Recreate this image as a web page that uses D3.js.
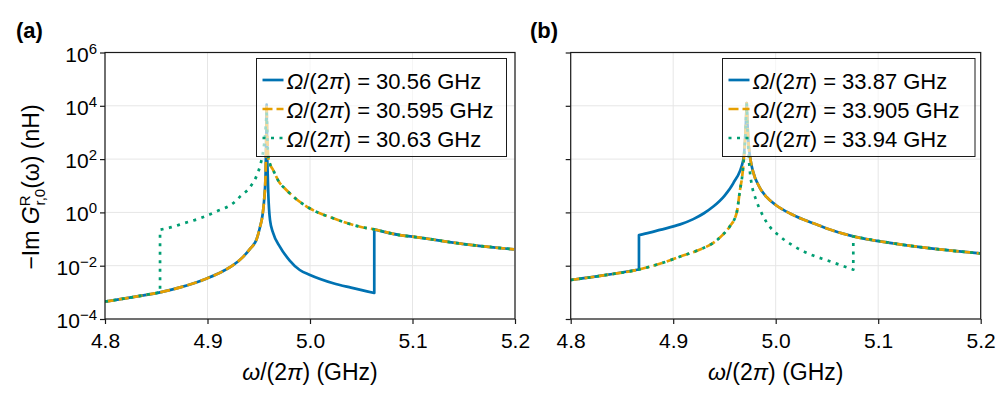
<!DOCTYPE html>
<html><head><meta charset="utf-8">
<script src="https://cdn.jsdelivr.net/npm/d3@7"></script>
<style>
body{margin:0;background:#fff}
svg{display:block}
text{font-family:"Liberation Sans",Arial,Helvetica,sans-serif;fill:#000}
</style>
</head><body>
<svg id="c" width="997" height="399"></svg>
<script>
// ---------- data (x in GHz, y = -Im G in nH) ----------
const xTicks = [4.8, 4.9, 5.0, 5.1, 5.2];
const yTickExps = [-4, -2, 0, 2, 4, 6];
const panelLabels = ["(a)", "(b)"];
const legendA = ["30.56", "30.595", "30.63"];
const legendB = ["33.87", "33.905", "33.94"];

// panel (a)
const aBaseLeft = [[4.800,4.5e-4],[4.830,6.9e-4],[4.8537,1.0e-3],[4.875,1.6e-3],[4.900,3.4e-3],[4.915,6.2e-3],[4.925,0.0105],[4.935,0.022],[4.9415,0.043],[4.948,0.1],[4.951,0.26],[4.9537,0.8],[4.9553,3.0],[4.9567,30],[4.9574,1000],[4.9577,1.1e4]];
const aBaseRight = [[4.9577,1.1e4],[4.9582,1000],[4.9588,250],[4.9593,120],[4.961,65],[4.964,39],[4.970,13.5],[4.975,8.2],[4.9805,5.1],[4.990,2.5],[5.000,1.4],[5.0227,0.6],[5.0488,0.29],[5.0627,0.23],[5.0878,0.14],[5.100,0.123],[5.150,0.065],[5.199,0.041]];
const aBlueRight = [[4.9577,1.1e4],[4.9583,100],[4.9593,5.1],[4.961,0.51],[4.964,0.17],[4.9707,0.051],[4.980,0.016],[4.990,6.9e-3],[5.000,4.5e-3],[5.0227,2.2e-3],[5.040,1.5e-3],[5.0627,9.5e-4]];
const aGreenLeft = [[4.8537,0.224],[4.865,0.28],[4.876,0.38],[4.8927,0.6],[4.909,1.1],[4.925,2.2],[4.9317,3.9],[4.9415,8.9],[4.948,24],[4.951,51],[4.9545,220],[4.956,650],[4.9577,5600]];
const aBlueJump = 5.0627, aGreenJump = 4.8537, aPeak = 4.9577;

// panel (b)
const bBaseLeft = [[4.800,2.9e-3],[4.835,4.5e-3],[4.8666,7.2e-3],[4.897,0.016],[4.9068,0.022],[4.925,0.039],[4.9391,0.072],[4.948,0.14],[4.955,0.29],[4.962,1.0],[4.965,6.3],[4.968,40],[4.9705,1000],[4.9717,1.26e4]];
const bBaseRight = [[4.9717,1.26e4],[4.9725,2000],[4.9735,400],[4.9755,91],[4.978,33],[4.984,9.1],[4.991,3.8],[5.000,1.9],[5.014,0.91],[5.027,0.54],[5.040,0.35],[5.0498,0.25],[5.0757,0.126],[5.1147,0.069],[5.160,0.041],[5.1993,0.029]];
const bBlueLeft = [[4.8666,0.141],[4.877,0.174],[4.887,0.22],[4.9068,0.355],[4.9196,0.56],[4.930,0.93],[4.9391,1.66],[4.950,4.2],[4.9587,12.6],[4.9683,91],[4.9705,1000],[4.9717,1.26e4]];
const bGreenRight = [[4.9717,1.0e4],[4.9728,500],[4.9749,32],[4.9815,2.5],[4.9847,1.26],[4.9912,0.42],[5.0042,0.126],[5.0172,0.056],[5.0367,0.024],[5.0498,0.016],[5.0757,7.1e-3]];
const bBlueJump = 4.8666, bGreenJump = 5.0757, bPeak = 4.9717;

const colors = ["#0072B2", "#E69F00", "#009E73"];
const dashes = [null, "10,4", "3,5.5"];

// ---------- build series ----------
const le = (a, v) => a.filter(d => d[0] <= v);
const gt = (a, v) => a.filter(d => d[0] > v);
const ge = (a, v) => a.filter(d => d[0] >= v);
const rng = (a, lo, hi) => a.filter(d => d[0] > lo && d[0] <= hi);

const seriesA = [
  [aBaseLeft, rng(aBlueRight, aPeak, aBlueJump), ge(aBaseRight, aBlueJump)],
  [aBaseLeft, gt(aBaseRight, aPeak)],
  [le(aBaseLeft, aGreenJump), aGreenLeft, gt(aBaseRight, aPeak)]
];
const seriesB = [
  [le(bBaseLeft, bBlueJump), bBlueLeft, gt(bBaseRight, bPeak)],
  [bBaseLeft, gt(bBaseRight, bPeak)],
  [bBaseLeft, rng(bGreenRight, bPeak, bGreenJump), ge(bBaseRight, bGreenJump)]
];

// ---------- drawing ----------
const svg = d3.select("#c");
const T = 52.5, B = 319, PW = 410;
const y = d3.scaleLog().domain([1e-4, 1e6]).range([B, T]);
const FONT_TICK = 21, FONT_LAB = 23, FONT_LEG = 22;

function drawPanel(idx, left, series, legendVals, legX, legW, showYLabels, labelX) {
  const x = d3.scaleLinear().domain([4.8, 5.2]).range([left, left + PW]);
  const g = svg.append("g");
  const clipId = "clip" + idx;
  svg.append("clipPath").attr("id", clipId).append("rect")
    .attr("x", left).attr("y", T).attr("width", PW).attr("height", B - T);

  // grid
  g.selectAll(".gx").data(xTicks).enter().append("line")
    .attr("x1", d => x(d)).attr("x2", d => x(d)).attr("y1", T).attr("y2", B)
    .attr("stroke", "#e6e6e6").attr("stroke-width", 1);
  g.selectAll(".gy").data(yTickExps).enter().append("line")
    .attr("x1", left).attr("x2", left + PW).attr("y1", d => y(Math.pow(10, d))).attr("y2", d => y(Math.pow(10, d)))
    .attr("stroke", "#e6e6e6").attr("stroke-width", 1);

  // lines
  const line = d3.line().x(d => x(d[0])).y(d => y(d[1])).curve(d3.curveMonotoneX);
  const lg = g.append("g").attr("clip-path", `url(#${clipId})`);
  series.forEach((segs, i) => {
    const dstr = segs.map((s, k) => { const p = line(s); return k ? p.replace(/^M/, "L") : p; }).join("");
    const p = lg.append("path").attr("d", dstr).attr("fill", "none")
      .attr("stroke", colors[i]).attr("stroke-width", 2.7).attr("stroke-linejoin", "round");
    if (dashes[i]) p.attr("stroke-dasharray", dashes[i]);
  });

  // frame
  g.append("rect").attr("x", left).attr("y", T).attr("width", PW).attr("height", B - T)
    .attr("fill", "none").attr("stroke", "#1a1a1a").attr("stroke-width", 1.2);

  // x axis
  const xAxis = d3.axisBottom(x).tickValues(xTicks).tickFormat(d3.format(".1f")).tickSize(5).tickSizeOuter(0).tickPadding(9);
  const xa = g.append("g").attr("transform", `translate(0,${B})`).call(xAxis);
  xa.select(".domain").remove();
  xa.selectAll("line").attr("stroke", "#1a1a1a").attr("stroke-width", 1.2);
  xa.selectAll("text").attr("font-size", FONT_TICK).attr("font-family", "Liberation Sans, Arial, sans-serif").attr("fill", "#000");

  // y axis
  const yAxis = d3.axisLeft(y).tickValues(yTickExps.map(e => Math.pow(10, e))).tickFormat("").tickSize(5).tickSizeOuter(0);
  const ya = g.append("g").attr("transform", `translate(${left},0)`).call(yAxis);
  ya.select(".domain").remove();
  ya.selectAll("line").attr("stroke", "#1a1a1a").attr("stroke-width", 1.2);
  if (showYLabels) {
    yTickExps.forEach(e => {
      const t = g.append("text").attr("x", left - 8).attr("y", y(Math.pow(10, e)) + 9)
        .attr("text-anchor", "end").attr("font-size", FONT_TICK);
      t.append("tspan").text("10");
      t.append("tspan").attr("font-size", 15).attr("dy", -8).text(e < 0 ? "\u2212" + (-e) : String(e));
    });
  }

  // x title
  const xt = g.append("text").attr("x", left + PW / 2).attr("y", 380).attr("text-anchor", "middle").attr("font-size", FONT_LAB);
  xt.append("tspan").attr("font-style", "italic").text("ω");
  xt.append("tspan").text("/(2");
  xt.append("tspan").attr("font-style", "italic").text("π");
  xt.append("tspan").text(") (GHz)");

  // panel label
  g.append("text").attr("x", labelX).attr("y", 37.5).attr("font-size", 22).attr("font-weight", "bold").text(panelLabels[idx]);

  // legend
  const LT = 58.5, LH = 98, rowY = [80, 109, 138];
  const leg = g.append("g");
  leg.append("rect").attr("x", legX).attr("y", LT).attr("width", legW).attr("height", LH)
    .attr("fill", "rgba(255,255,255,0.62)").attr("stroke", "#1a1a1a").attr("stroke-width", 1);
  legendVals.forEach((v, i) => {
    const ln = leg.append("line").attr("x1", legX + 6).attr("x2", legX + 27).attr("y1", rowY[i]).attr("y2", rowY[i])
      .attr("stroke", colors[i]).attr("stroke-width", 2.7);
    if (dashes[i]) ln.attr("stroke-dasharray", dashes[i]);
    const t = leg.append("text").attr("x", legX + 30).attr("y", rowY[i] + 8.5).attr("font-size", FONT_LEG);
    t.append("tspan").attr("font-style", "italic").text("Ω");
    t.append("tspan").text("/(2");
    t.append("tspan").attr("font-style", "italic").text("π");
    t.append("tspan").text(") = " + v + " GHz");
  });
}

drawPanel(0, 105, seriesA, legendA, 256.5, 250, true, 16);
drawPanel(1, 570.7, seriesB, legendB, 722.5, 252.5, false, 530);

// y title
const yt = svg.append("text").attr("transform", "translate(39,187) rotate(-90)")
  .attr("text-anchor", "middle").attr("font-size", FONT_LAB);
yt.append("tspan").text("\u2212Im ");
yt.append("tspan").attr("font-style", "italic").text("G");
yt.append("tspan").attr("font-size", 15).attr("dy", -9).text("R");
yt.append("tspan").attr("font-size", 15).attr("dx", -10).attr("dy", 15).text("r,0");
yt.append("tspan").attr("dy", -6).text("(ω) (nH)");
</script>
</body></html>
